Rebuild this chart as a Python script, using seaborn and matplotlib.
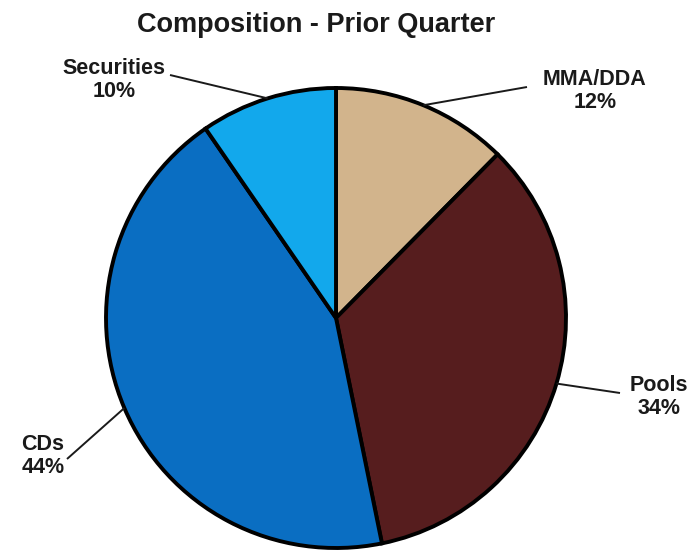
import numpy as np
import matplotlib
matplotlib.use("Agg")
import matplotlib.pyplot as plt
import seaborn as sns

# Data (clockwise from 12 o'clock); labels show rounded shares
categories = ["MMA/DDA", "Pools", "CDs", "Securities"]
shares = [12.4, 34.4, 43.6, 9.6]
slice_colors = ["#D2B48C", "#561D1E", "#0A6EC2", "#12A8EC"]

sns.set_theme(style="white")
plt.rcParams["font.family"] = ["Liberation Sans", "DejaVu Sans"]

W, H = 697, 552
fig = plt.figure(figsize=(W / 100, H / 100), dpi=100)
ax = fig.add_axes([0, 0, 1, 1])

center = (336, H - 318)
radius = 230
palette = sns.color_palette(slice_colors)

wedges, _ = ax.pie(shares, colors=palette, startangle=90, counterclock=False,
                   center=center, radius=radius, frame=True,
                   wedgeprops=dict(edgecolor="black", linewidth=2.8))
ax.set_xlim(0, W)
ax.set_ylim(0, H)
ax.set_aspect("equal")
ax.axis("off")

# label placement (pixel coords: text centre, leader-line start)
label_pos = {
    "MMA/DDA": ((595, 91), (527, 87)),
    "Pools": ((659, 397), (620, 393)),
    "CDs": ((43, 456), (67, 459)),
    "Securities": ((114, 80), (170, 75)),
}

for w, name, val in zip(wedges, categories, shares):
    mid = np.deg2rad((w.theta1 + w.theta2) / 2)
    ex = center[0] + radius * np.cos(mid)
    ey = center[1] + radius * np.sin(mid)
    (tx, ty), (lx, ly) = label_pos[name]
    ax.plot([lx, ex], [H - ly, ey], color="#1a1a1a", lw=1.4, solid_capstyle="butt")
    ax.text(tx, H - ty, f"{name}\n{round(val)}%", ha="center", va="center",
            fontsize=15.5, fontweight="bold", color="#1a1a1a", linespacing=1.15)

ax.text(316, H - 25, "Composition - Prior Quarter", ha="center", va="center",
        fontsize=19.5, fontweight="bold", color="#1a1a1a")

fig.savefig("out.png", dpi=100, facecolor="white")
